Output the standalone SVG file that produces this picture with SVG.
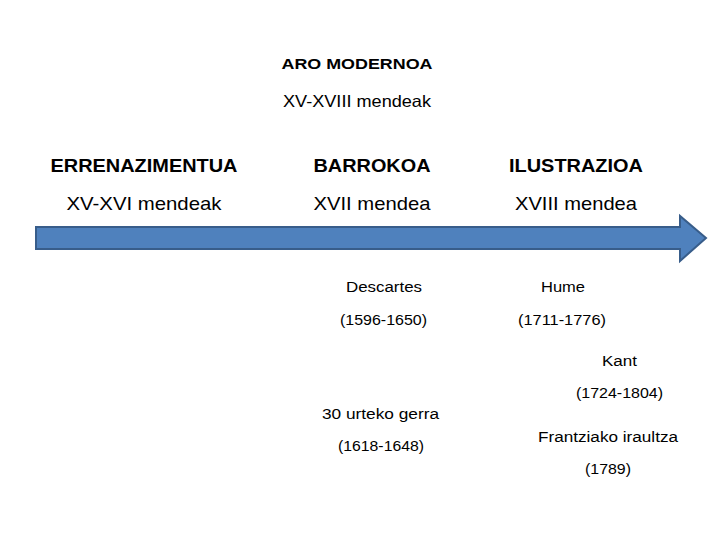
<svg xmlns="http://www.w3.org/2000/svg" width="720" height="540" viewBox="0 0 720 540">
<style>
text{font-family:"Liberation Sans",Arial,sans-serif;fill:#000;text-anchor:middle}
.t{font-size:15.5px;font-weight:bold}
.h{font-size:18.5px;font-weight:bold}
.s{font-size:19px}
.m{font-size:16.5px}
.n{font-size:15.5px}
</style>
<rect width="720" height="540" fill="#fff"/>
<g id="title">
<text class="t" x="357" y="69" textLength="151" lengthAdjust="spacingAndGlyphs">ARO MODERNOA</text>
<text class="m" x="357" y="107" textLength="148" lengthAdjust="spacingAndGlyphs">XV-XVIII mendeak</text>
</g>
<g id="errenazimentua">
<text class="h" x="144" y="172" textLength="187" lengthAdjust="spacingAndGlyphs">ERRENAZIMENTUA</text>
<text class="s" x="144" y="210" textLength="155" lengthAdjust="spacingAndGlyphs">XV-XVI mendeak</text>
</g>
<g id="barrokoa">
<text class="h" x="372" y="172" textLength="117" lengthAdjust="spacingAndGlyphs">BARROKOA</text>
<text class="s" x="372" y="210" textLength="117" lengthAdjust="spacingAndGlyphs">XVII mendea</text>
</g>
<g id="ilustrazioa">
<text class="h" x="576" y="172" textLength="134" lengthAdjust="spacingAndGlyphs">ILUSTRAZIOA</text>
<text class="s" x="576" y="210" textLength="122" lengthAdjust="spacingAndGlyphs">XVIII mendea</text>
</g>
<g id="connectors">
<path d="M36,227 H680 V216 L706,238 L680,261 V249 H36 Z" fill="#4f81bd" stroke="#385d8a" stroke-width="2"/>
</g>
<g id="descartes">
<text class="n" x="384" y="292" textLength="76" lengthAdjust="spacingAndGlyphs">Descartes</text>
<text class="n" x="383.5" y="325" textLength="87" lengthAdjust="spacingAndGlyphs">(1596-1650)</text>
</g>
<g id="hume">
<text class="n" x="563" y="292" textLength="44" lengthAdjust="spacingAndGlyphs">Hume</text>
<text class="n" x="562" y="325" textLength="88" lengthAdjust="spacingAndGlyphs">(1711-1776)</text>
</g>
<g id="kant">
<text class="n" x="619.5" y="366" textLength="35" lengthAdjust="spacingAndGlyphs">Kant</text>
<text class="n" x="619.5" y="398" textLength="87" lengthAdjust="spacingAndGlyphs">(1724-1804)</text>
</g>
<g id="gerra">
<text class="n" x="380.5" y="419" textLength="117" lengthAdjust="spacingAndGlyphs">30 urteko gerra</text>
<text class="n" x="381" y="451" textLength="86" lengthAdjust="spacingAndGlyphs">(1618-1648)</text>
</g>
<g id="iraultza">
<text class="n" x="608" y="442" textLength="140" lengthAdjust="spacingAndGlyphs">Frantziako iraultza</text>
<text class="n" x="608" y="474" textLength="46" lengthAdjust="spacingAndGlyphs">(1789)</text>
</g>
</svg>
